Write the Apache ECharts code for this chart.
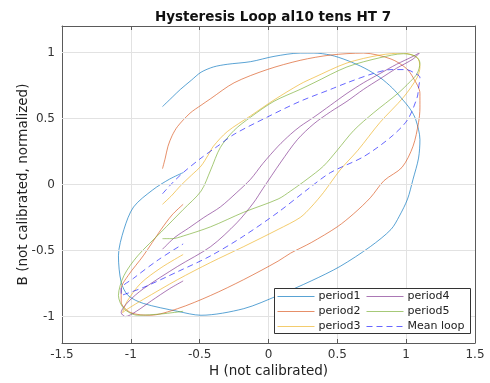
<!DOCTYPE html>
<html>
<head>
<meta charset="utf-8">
<script src="https://cdn.jsdelivr.net/npm/echarts@6/dist/echarts.min.js"></script>
<style>html,body{margin:0;padding:0;background:#fff}#c{width:490px;height:383px}</style>
</head>
<body>
<div id="c"></div>
<script>
const titleText = 'Hysteresis Loop al10 tens HT 7';
const xName = 'H (not calibrated)';
const yName = 'B (not calibrated, normalized)';
const xTicks = [-1.5, -1, -0.5, 0, 0.5, 1, 1.5];
const yTicks = [-1, -0.5, 0, 0.5, 1];
const seriesNames = ['period1', 'period2', 'period3', 'period4', 'period5', 'Mean loop'];

const period1 = [[-0.77,0.59],[-0.70,0.66],[-0.64,0.72],[-0.56,0.79],[-0.49,0.85],[-0.40,0.89],[-0.30,0.91],[-0.13,0.93],[0.04,0.97],[0.23,0.995],[0.33,0.995],[0.45,0.98],[0.57,0.94],[0.70,0.88],[0.81,0.81],[0.90,0.73],[0.96,0.66],[1.03,0.57],[1.07,0.49],[1.10,0.34],[1.09,0.20],[1.05,0.04],[1.01,-0.11],[0.95,-0.24],[0.89,-0.34],[0.74,-0.47],[0.52,-0.62],[0.31,-0.73],[0.07,-0.84],[-0.18,-0.94],[-0.49,-0.99],[-0.66,-0.96],[-0.91,-0.90],[-1.02,-0.84],[-1.07,-0.74],[-1.09,-0.54],[-1.05,-0.34],[-0.98,-0.17],[-0.84,-0.04],[-0.72,0.04],[-0.62,0.09]];
const period2 = [[-0.77,0.12],[-0.75,0.20],[-0.73,0.29],[-0.70,0.37],[-0.66,0.44],[-0.57,0.54],[-0.49,0.60],[-0.42,0.65],[-0.25,0.77],[-0.01,0.87],[0.23,0.94],[0.45,0.98],[0.69,0.995],[0.89,0.95],[1.00,0.88],[1.05,0.81],[1.10,0.69],[1.10,0.58],[1.09,0.47],[1.05,0.29],[0.97,0.13],[0.84,0.03],[0.74,-0.10],[0.62,-0.22],[0.50,-0.32],[0.31,-0.44],[0.16,-0.52],[0.07,-0.58],[-0.18,-0.72],[-0.42,-0.84],[-0.66,-0.94],[-0.86,-0.99],[-1.00,-0.97],[-1.07,-0.89],[-1.07,-0.79],[-1.02,-0.69],[-0.91,-0.54],[-0.78,-0.34],[-0.70,-0.23],[-0.62,-0.15]];
const period3 = [[-0.77,-0.15],[-0.70,-0.08],[-0.64,-0.01],[-0.56,0.07],[-0.49,0.14],[-0.44,0.22],[-0.40,0.29],[-0.30,0.40],[-0.13,0.52],[0.04,0.64],[0.23,0.76],[0.33,0.81],[0.57,0.92],[0.81,0.98],[0.98,0.995],[1.08,0.96],[1.10,0.89],[1.08,0.81],[0.98,0.66],[0.81,0.47],[0.65,0.26],[0.52,0.11],[0.40,-0.06],[0.31,-0.17],[0.23,-0.25],[0.07,-0.34],[-0.18,-0.47],[-0.42,-0.59],[-0.66,-0.72],[-0.91,-0.87],[-1.02,-0.94],[-1.06,-0.97],[-1.03,-0.89],[-0.93,-0.75],[-0.78,-0.63],[-0.62,-0.53]];
const period4 = [[-0.77,-0.49],[-0.68,-0.40],[-0.58,-0.33],[-0.47,-0.25],[-0.35,-0.17],[-0.23,-0.06],[-0.13,0.04],[-0.04,0.16],[0.07,0.29],[0.16,0.38],[0.23,0.44],[0.33,0.51],[0.45,0.60],[0.57,0.69],[0.69,0.77],[0.81,0.84],[0.93,0.91],[1.05,0.97],[1.10,1.00],[1.05,0.95],[0.93,0.88],[0.81,0.80],[0.69,0.72],[0.57,0.63],[0.45,0.55],[0.33,0.46],[0.21,0.34],[0.09,0.17],[-0.04,-0.03],[-0.11,-0.14],[-0.23,-0.29],[-0.42,-0.47],[-0.66,-0.62],[-0.91,-0.79],[-1.02,-0.89],[-1.07,-0.97],[-1.04,-1.00],[-0.96,-0.96],[-0.85,-0.88],[-0.72,-0.79],[-0.62,-0.73]];
const period5 = [[-0.77,-0.41],[-0.70,-0.41],[-0.62,-0.39],[-0.42,-0.32],[-0.18,-0.21],[0.07,-0.11],[0.16,-0.05],[0.28,0.04],[0.40,0.14],[0.50,0.26],[0.62,0.41],[0.76,0.54],[0.94,0.69],[1.03,0.78],[1.08,0.84],[1.10,0.92],[1.07,0.97],[0.98,0.99],[0.81,0.96],[0.57,0.89],[0.33,0.77],[0.23,0.72],[0.04,0.63],[-0.13,0.51],[-0.25,0.41],[-0.35,0.28],[-0.42,0.11],[-0.49,-0.05],[-0.62,-0.19],[-0.78,-0.36],[-0.95,-0.54],[-1.05,-0.69],[-1.09,-0.84],[-1.05,-0.94],[-0.95,-0.99],[-0.78,-0.98],[-0.62,-0.96]];
const meanLoop = [[-0.77,-0.07],[-0.70,0.01],[-0.62,0.09],[-0.49,0.20],[-0.37,0.29],[-0.25,0.38],[-0.01,0.51],[0.23,0.63],[0.45,0.72],[0.57,0.77],[0.76,0.84],[0.89,0.87],[1.00,0.87],[1.05,0.85],[1.10,0.81],[1.09,0.73],[1.08,0.66],[1.01,0.49],[0.89,0.36],[0.69,0.21],[0.45,0.09],[0.28,-0.04],[0.07,-0.21],[-0.18,-0.39],[-0.42,-0.54],[-0.66,-0.66],[-0.91,-0.78],[-1.07,-0.84],[-1.07,-0.79],[-0.98,-0.71],[-0.80,-0.57],[-0.62,-0.45]];

const allData = [period1, period2, period3, period4, period5, meanLoop];
const colors = ['rgba(0,114,189,0.65)','rgba(217,83,25,0.65)','rgba(237,177,32,0.65)','rgba(126,47,142,0.65)','rgba(119,172,48,0.65)','rgba(0,0,255,0.6)'];
const FONT = 'DejaVu Sans';

const chart = echarts.init(document.getElementById('c'), null, {renderer: 'canvas'});

const series = allData.map((d, i) => ({
  name: seriesNames[i],
  type: 'line',
  data: d,
  symbol: 'none',
  smooth: 0.3,
  z: 3,
  lineStyle: {color: colors[i], width: 1, type: i === 5 ? [6, 4] : 'solid'},
  itemStyle: {color: colors[i]},
  emphasis: {disabled: true},
  animation: false
}));

series.push({
  type: 'line', data: [], z: 1, silent: true, animation: false,
  markLine: {
    silent: true, symbol: 'none', label: {show: false}, animation: false,
    lineStyle: {color: '#e2e2e2', type: 'solid', width: 1},
    data: yTicks.map(v => ({yAxis: v}))
  }
});

const axisCommon = {
  axisLine: {show: true, onZero: false, lineStyle: {color: '#5a5a5a', width: 1}},
  axisTick: {show: true, inside: true, length: 4, lineStyle: {color: '#5a5a5a'}}
};

const legendCommon = {
  orient: 'vertical', top: 291, z: 60, padding: 0,
  itemWidth: 37, itemHeight: 13, itemGap: 4, selectedMode: false,
  itemStyle: {opacity: 0},
  lineStyle: {width: 1},
  textStyle: {fontFamily: FONT, fontSize: 11, color: '#222', padding: [0, 0, 0, -1]}
};

chart.setOption({
  animation: false,
  textStyle: {fontFamily: FONT},
  title: {
    text: titleText, left: 268, top: 5, textAlign: 'center',
    textStyle: {fontFamily: FONT, fontSize: 13.5, fontWeight: 'bold', color: '#111'}
  },
  grid: {left: 62, right: 15, top: 26, bottom: 40, containLabel: false},
  xAxis: [
    Object.assign({}, axisCommon, {
      type: 'value', min: xTicks[0], max: xTicks[xTicks.length - 1], interval: 0.5, position: 'bottom',
      name: xName, nameLocation: 'middle', nameGap: 21, nameMoveOverlap: false,
      nameTextStyle: {fontFamily: FONT, fontSize: 13.5, color: '#222'},
      axisLabel: {fontFamily: FONT, fontSize: 12, color: '#333', margin: 6},
      splitLine: {show: true, lineStyle: {color: '#e2e2e2', width: 1}}
    }),
    Object.assign({}, axisCommon, {
      type: 'value', min: xTicks[0], max: xTicks[xTicks.length - 1], interval: 0.5, position: 'top',
      axisLabel: {show: false}, splitLine: {show: false}
    })
  ],
  yAxis: [
    Object.assign({}, axisCommon, {
      type: 'value', min: -1.2, max: 1.2, position: 'left',
      axisTick: {show: true, inside: true, length: 4, lineStyle: {color: '#5a5a5a'}, customValues: yTicks},
      name: yName, nameLocation: 'middle', nameGap: 32, nameMoveOverlap: false,
      nameTextStyle: {fontFamily: FONT, fontSize: 13.5, color: '#222'},
      axisLabel: {fontFamily: FONT, fontSize: 12, color: '#333', margin: 7, customValues: yTicks},
      splitLine: {show: false}
    }),
    Object.assign({}, axisCommon, {
      type: 'value', min: -1.2, max: 1.2, position: 'right',
      axisTick: {show: true, inside: true, length: 4, lineStyle: {color: '#5a5a5a'}, customValues: yTicks},
      axisLabel: {show: false, customValues: yTicks}, splitLine: {show: false}
    })
  ],
  graphic: [{
    type: 'rect', z: 50, silent: true,
    shape: {x: 274.5, y: 288.5, width: 196, height: 45},
    style: {fill: '#fff', stroke: '#333', lineWidth: 1}
  }],
  legend: [
    Object.assign({}, legendCommon, {data: seriesNames.slice(0, 3), left: 277}),
    Object.assign({}, legendCommon, {data: seriesNames.slice(3), left: 366})
  ],
  series: series
});
</script>
</body>
</html>
